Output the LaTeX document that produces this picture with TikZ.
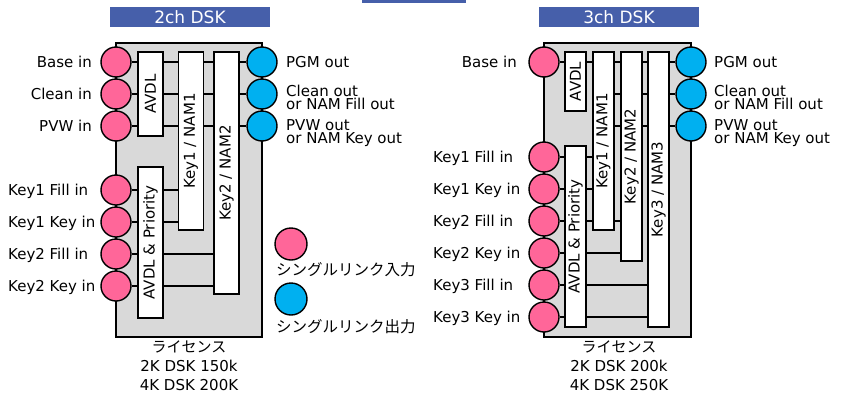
\documentclass[tikz,border=0pt]{standalone}
\usepackage{fontspec}
\setmainfont{DejaVu Sans}
\newfontfamily\jp{Noto Sans CJK JP}
\usepackage{graphicx}
\pgfdeclarelayer{bg}
\pgfdeclarelayer{mid}
\pgfsetlayers{bg,mid,main}
\definecolor{ttl}{RGB}{70,95,170}
\definecolor{pinkc}{RGB}{255,102,153}
\definecolor{bluec}{RGB}{0,176,240}
\definecolor{grayc}{RGB}{217,217,217}
\tikzset{
  grayblk/.style={draw, fill=grayc, line width=1.4pt, inner sep=0pt},
  blk/.style={draw, fill=white, line width=1.4pt, inner sep=0pt, font=\fontsize{15}{18}\selectfont},
  pin/.style={circle, draw, fill=pinkc, line width=1.4pt, minimum size=30pt, inner sep=0pt},
  pout/.style={circle, draw, fill=bluec, line width=1.4pt, minimum size=30pt, inner sep=0pt},
  conn/.style={line width=1.3pt},
  lbl/.style={inner sep=0pt, font=\fontsize{15}{18}\selectfont, text height=10.9pt, text depth=0pt},
  rlbl/.style={inner sep=0pt, font=\fontsize{15}{13.5}\selectfont, align=left, anchor=west},
  ttlbox/.style={fill=ttl, text=white, inner sep=0pt, minimum width=160pt, minimum height=20pt, font=\fontsize{17}{20}\selectfont},
  lic/.style={align=center, inner sep=0pt, font=\fontsize{15}{19}\selectfont},
  jplbl/.style={lbl, anchor=west, font=\jp\fontsize{15.5}{18}\selectfont},
}
\begin{document}
\begin{tikzpicture}[x=1pt,y=-1pt]
\useasboundingbox (0,0) rectangle (841,394);
\fill[ttl] (362,0) rectangle (466,2.5);

% ===== left: 2ch DSK =====
\begin{pgfonlayer}{bg}
\node[grayblk, minimum width=146pt, minimum height=294pt] (boxA) at (189,190) {};
\end{pgfonlayer}
\node[ttlbox] (tA) at (190,17) {2ch DSK};
\node[blk, minimum width=25pt, minimum height=84pt] (avA) at (150.5,94) {\rotatebox{90}{AVDL}};
\node[blk, minimum width=25pt, minimum height=178pt] (k1A) at (191,141) {\rotatebox{90}{Key1 / NAM1}};
\node[blk, minimum width=25pt, minimum height=242pt] (k2A) at (226.5,173) {\rotatebox{90}{Key2 / NAM2}};
\node[blk, minimum width=25pt, minimum height=151pt] (apA) at (150.5,242.5) {\rotatebox{90}{AVDL \& Priority}};

\node[pin] (cA1) at (116,62) {};
\node[pin] (cA2) at (116,94) {};
\node[pin] (cA3) at (116,126) {};
\node[pin] (kA1) at (116,190) {};
\node[pin] (kA2) at (116,222) {};
\node[pin] (kA3) at (116,254) {};
\node[pin] (kA4) at (116,286) {};
\node[pout] (oA1) at (262,62) {};
\node[pout] (oA2) at (262,94) {};
\node[pout] (oA3) at (262,126) {};

\node[lbl, anchor=east] (lcA1) at (92,62) {Base in};
\node[lbl, anchor=east] (lcA2) at (92,94) {Clean in};
\node[lbl, anchor=east] (lcA3) at (92,126) {PVW in};
\node[lbl, anchor=west] (lkA1) at (8,190) {Key1 Fill in};
\node[lbl, anchor=west] (lkA2) at (8,222) {Key1 Key in};
\node[lbl, anchor=west] (lkA3) at (8,254) {Key2 Fill in};
\node[lbl, anchor=west] (lkA4) at (8,286) {Key2 Key in};
\node[rlbl] (loA1) at (286,62) {PGM out};
\node[rlbl] (loA2) at (286,97.5) {Clean out\\or NAM Fill out};
\node[rlbl] (loA3) at (286,133) {PVW out\\or NAM Key out};

\node[lic] (licA) at (189,366) {{\jp ライセンス}\\2K DSK 150k\\4K DSK 200K};

% legend
\node[pin, minimum size=32pt] (legP) at (291,244) {};
\node[pout, minimum size=32pt] (legB) at (291,299) {};
\node[jplbl] (legPt) at (276,270) {シングルリンク入力};
\node[jplbl] (legBt) at (276,327) {シングルリンク出力};

% ===== right: 3ch DSK =====
\begin{pgfonlayer}{bg}
\node[grayblk, minimum width=147pt, minimum height=294pt] (boxB) at (617.5,190) {};
\end{pgfonlayer}
\node[ttlbox] (tB) at (619,17) {3ch DSK};
\node[blk, minimum width=21pt, minimum height=59pt] (avB) at (575.5,81.5) {\rotatebox{90}{AVDL}};
\node[blk, minimum width=21pt, minimum height=178pt] (k1B) at (603.5,141) {\rotatebox{90}{Key1 / NAM1}};
\node[blk, minimum width=21pt, minimum height=209pt] (k2B) at (631.5,156.5) {\rotatebox{90}{Key2 / NAM2}};
\node[blk, minimum width=21pt, minimum height=275pt] (k3B) at (658.5,189.5) {\rotatebox{90}{Key3 / NAM3}};
\node[blk, minimum width=21pt, minimum height=181pt] (apB) at (575.5,236.5) {\rotatebox{90}{AVDL \& Priority}};

\node[pin] (cB1) at (544,62) {};
\node[pin] (kB1) at (544,157) {};
\node[pin] (kB2) at (544,189) {};
\node[pin] (kB3) at (544,221) {};
\node[pin] (kB4) at (544,253) {};
\node[pin] (kB5) at (544,285) {};
\node[pin] (kB6) at (544,317) {};
\node[pout] (oB1) at (691,62) {};
\node[pout] (oB2) at (691,94) {};
\node[pout] (oB3) at (691,126) {};

\node[lbl, anchor=east] (lcB1) at (517,62) {Base in};
\node[lbl, anchor=west] (lkB1) at (433,157) {Key1 Fill in};
\node[lbl, anchor=west] (lkB2) at (433,189) {Key1 Key in};
\node[lbl, anchor=west] (lkB3) at (433,221) {Key2 Fill in};
\node[lbl, anchor=west] (lkB4) at (433,253) {Key2 Key in};
\node[lbl, anchor=west] (lkB5) at (433,285) {Key3 Fill in};
\node[lbl, anchor=west] (lkB6) at (433,317) {Key3 Key in};
\node[rlbl] (loB1) at (714,62) {PGM out};
\node[rlbl] (loB2) at (714,97.5) {Clean out\\or NAM Fill out};
\node[rlbl] (loB3) at (714,133) {PVW out\\or NAM Key out};

\node[lic] (licB) at (619,366) {{\jp ライセンス}\\2K DSK 200k\\4K DSK 250K};

% ===== connectors =====
\begin{pgfonlayer}{mid}
\foreach \i in {1,2,3} {
  \draw[conn] (cA\i.east) -- (cA\i -| avA.west);
  \draw[conn] (avA.east |- cA\i) -- (k1A.west |- cA\i);
  \draw[conn] (k1A.east |- cA\i) -- (k2A.west |- cA\i);
  \draw[conn] (k2A.east |- oA\i) -- (oA\i.west);
}
\foreach \i in {1,2,3,4} {
  \draw[conn] (kA\i.east) -- (kA\i -| apA.west);
}
\foreach \i in {1,2} {
  \draw[conn] (apA.east |- kA\i) -- (k1A.west |- kA\i);
}
\foreach \i in {3,4} {
  \draw[conn] (apA.east |- kA\i) -- (k2A.west |- kA\i);
}
\draw[conn] (cB1.east) -- (cB1 -| avB.west);
\draw[conn] (avB.east |- cB1) -- (k1B.west |- cB1);
\foreach \i in {1,2,3} {
  \draw[conn] (k1B.east |- oB\i) -- (k2B.west |- oB\i);
  \draw[conn] (k2B.east |- oB\i) -- (k3B.west |- oB\i);
  \draw[conn] (k3B.east |- oB\i) -- (oB\i.west);
}
\foreach \i in {1,...,6} {
  \draw[conn] (kB\i.east) -- (kB\i -| apB.west);
}
\foreach \i in {1,2} {
  \draw[conn] (apB.east |- kB\i) -- (k1B.west |- kB\i);
}
\foreach \i in {3,4} {
  \draw[conn] (apB.east |- kB\i) -- (k2B.west |- kB\i);
}
\foreach \i in {5,6} {
  \draw[conn] (apB.east |- kB\i) -- (k3B.west |- kB\i);
}
\end{pgfonlayer}
\end{tikzpicture}
\end{document}
